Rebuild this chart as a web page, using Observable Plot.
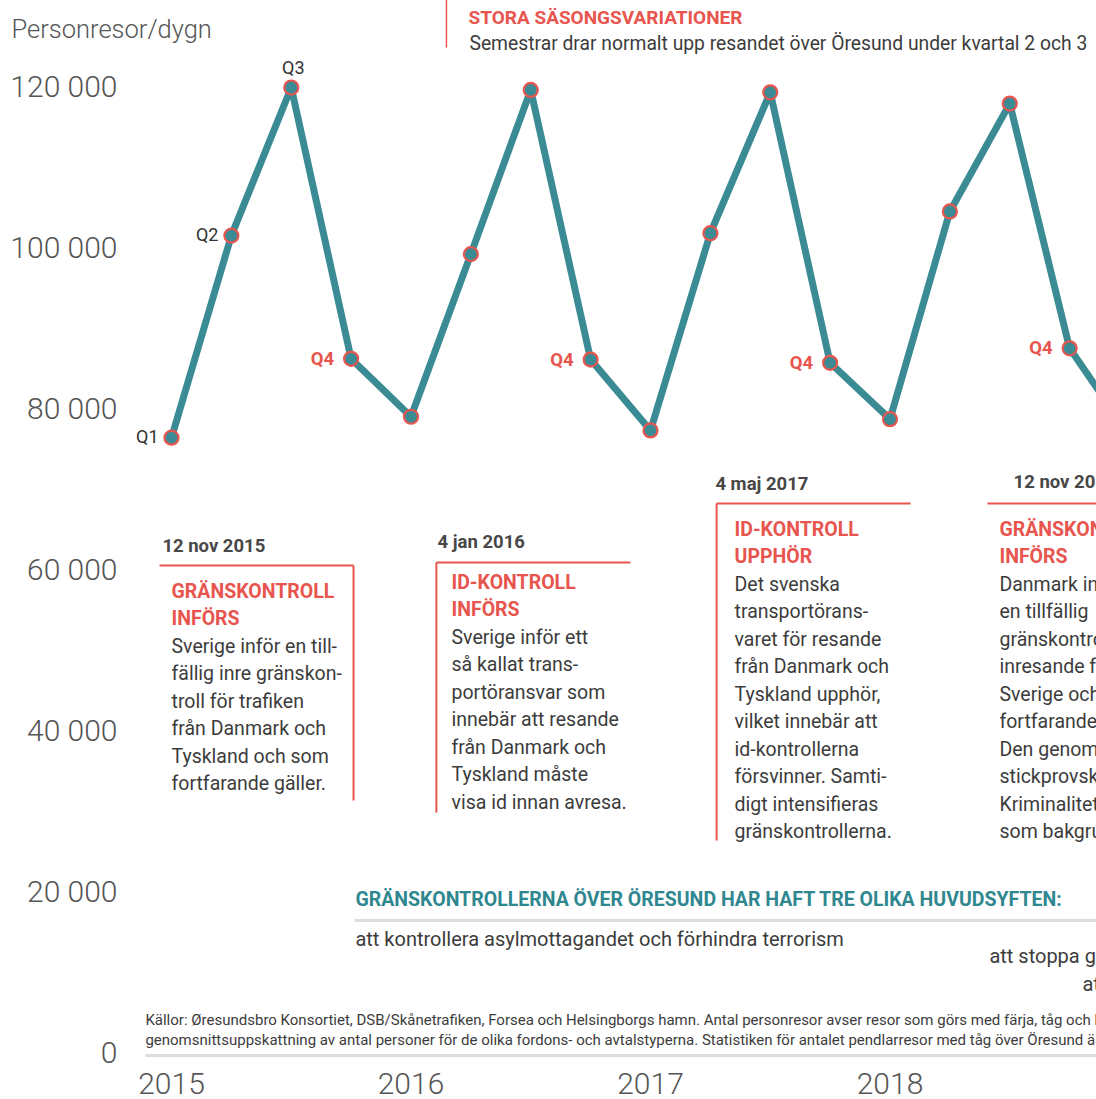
<!DOCTYPE html>
<html>
<head>
<meta charset="utf-8">
<script src="https://cdn.jsdelivr.net/npm/d3@7"></script>
<script src="https://cdn.jsdelivr.net/npm/@observablehq/plot@0.6"></script>
<style>
html, body { margin: 0; padding: 0; background: #fff; overflow: hidden; }
#chart { width: 1096px; height: 1099px; overflow: hidden; }
#chart svg { overflow: hidden; display: block; }
</style>
</head>
<body>
<div id="chart"></div>
<script>
// ---------- data ----------
const quarters = ["Q1", "Q2", "Q3", "Q4"];
const years = [2015, 2016, 2017, 2018, 2019];
const trips2015 = [76500, 101600, 120000, 86300];
const trips2016 = [79100, 99300, 119700, 86200];
const trips2017 = [77400, 101900, 119400, 85800];
const trips2018 = [78800, 104600, 118000, 87600];
const trips2019 = [76800]; // Q1 2019 (cut by the frame)
const yearTicks = [2015, 2016, 2017, 2018];
const valueTicks = [0, 20000, 40000, 60000, 80000, 100000, 120000];

const axisTitle = "Personresor/dygn";
const seasonTitle = "STORA SÄSONGSVARIATIONER";
const seasonText = "Semestrar drar normalt upp resandet över Öresund under kvartal 2 och 3";

const eventDates = ["12 nov 2015", "4 jan 2016", "4 maj 2017", "12 nov 2019"];
const eventTitles = ["GRÄNSKONTROLL\nINFÖRS", "ID-KONTROLL\nINFÖRS", "ID-KONTROLL\nUPPHÖR", "GRÄNSKONTROLL\nINFÖRS"];
const eventTexts = [
  "Sverige inför en till-\nfällig inre gränskon-\ntroll för trafiken\nfrån Danmark och\nTyskland och som\nfortfarande gäller.",
  "Sverige inför ett\nså kallat trans-\nportöransvar som\ninnebär att resande\nfrån Danmark och\nTyskland måste\nvisa id innan avresa.",
  "Det svenska\ntransportörans-\nvaret för resande\nfrån Danmark och\nTyskland upphör,\nvilket innebär att\nid-kontrollerna\nförsvinner. Samti-\ndigt intensifieras\ngränskontrollerna.",
  "Danmark inför\nen tillfällig\ngränskontroll för\ninresande från\nSverige och som\nfortfarande gäller.\nDen genomförs som\nstickprovskontroller.\nKriminalitet anges\nsom bakgrund."
];

const purposeTitle = "GRÄNSKONTROLLERNA ÖVER ÖRESUND HAR HAFT TRE OLIKA HUVUDSYFTEN:";
const purposes = [
  "att kontrollera asylmottagandet och förhindra terrorism",
  "att stoppa gränsöverskridande brottslighet",
  "att"
];
const sourceText = "Källor: Øresundsbro Konsortiet, DSB/Skånetrafiken, Forsea och Helsingborgs hamn. Antal personresor avser resor som görs med färja, tåg och bil över Öresund.\ngenomsnittsuppskattning av antal personer för de olika fordons- och avtalstyperna. Statistiken för antalet pendlarresor med tåg över Öresund är";

// ---------- build table ----------
const series = [trips2015, trips2016, trips2017, trips2018, trips2019];
const rows = [];
series.forEach((vals, i) => vals.forEach((v, q) => rows.push({t: years[i] + q * 0.25, year: years[i], q: quarters[q], value: v})));
const sideLabels = rows.filter(d => d.year === 2015 && (d.q === "Q1" || d.q === "Q2"));
const topLabels = rows.filter(d => d.year === 2015 && d.q === "Q3");
const q4Labels = rows.filter(d => d.q === "Q4");

// ---------- annotation layout (in data units) ----------
const layout = [
  {dx: 2014.962, dy: 62360, hy: 60620, hx1: 2014.950, hx2: 2015.760, vx: 2015.760, vy: 31428, tx: 2015.000, ty: 59067, by: 52235},
  {dx: 2016.111, dy: 62855, hy: 60993, hx1: 2016.106, hx2: 2016.916, vx: 2016.106, vy: 29937, tx: 2016.169, ty: 60185, by: 53353},
  {dx: 2017.271, dy: 70060, hy: 68322, hx1: 2017.276, hx2: 2018.086, vx: 2017.276, vy: 26459, tx: 2017.351, ty: 66769, by: 59937},
  {dx: 2018.516, dy: 70310, hy: 68322, hx1: 2018.407, hx2: 2019.217, vx: 2019.217, vy: 26459, tx: 2018.457, ty: 66769, by: 59937}
];
const events = layout.map((l, i) => ({...l, date: eventDates[i], title: eventTitles[i], text: eventTexts[i]}));

const teal = "#3b8b95";
const red = "#e8554e";
const ink = "#3c3c3c";
const gray = "#555555";
const fmt = d => d3.format(",")(d).replace(/,/g, " ");

const chart = Plot.plot({
  width: 1096,
  height: 1099,
  margin: 0,
  style: {fontFamily: "Roboto, 'DejaVu Sans', sans-serif", background: "#fff", overflow: "hidden"},
  x: {type: "linear", domain: [2015, 2019], range: [171, 1129]},
  y: {type: "linear", domain: [0, 120000], range: [1053, 87]},
  marks: [
    // axes
    Plot.axisY(valueTicks, {anchor: "left", tickSize: 0, tickPadding: 0, dx: 117, fontSize: 30, fontWeight: 300, fill: gray, tickFormat: fmt, label: null}),
    Plot.axisX(yearTicks, {anchor: "bottom", tickSize: 0, tickPadding: 0, dy: -27, fontSize: 30, fontWeight: 300, fill: gray, tickFormat: d => String(d), label: null}),
    Plot.text([axisTitle], {x: 2014.332, y: 126208, text: d => d, textAnchor: "start", lineAnchor: "bottom", fontSize: 25.5, fontWeight: 300, fill: gray}),

    // season annotation
    Plot.link([0], {x1: 2016.148, x2: 2016.148, y1: 131000, y2: 124966, stroke: red, strokeWidth: 1.5}),
    Plot.text([seasonTitle], {x: 2016.240, y: 127947, text: d => d, textAnchor: "start", lineAnchor: "bottom", fontSize: 19, fontWeight: "bold", fill: red}),
    Plot.text([seasonText], {x: 2016.244, y: 124717, text: d => d, textAnchor: "start", lineAnchor: "bottom", fontSize: 19.3, fill: ink}),

    // event boxes
    Plot.link(events, {x1: "hx1", x2: "hx2", y1: "hy", y2: "hy", stroke: red, strokeWidth: 2}),
    Plot.link(events, {x1: "vx", x2: "vx", y1: "hy", y2: "vy", stroke: red, strokeWidth: 2}),
    Plot.text(events, {x: "dx", y: "dy", text: "date", textAnchor: "start", lineAnchor: "bottom", fontSize: 18.5, fontWeight: "bold", fill: "#474747"}),
    Plot.text(events, {x: "tx", y: "ty", text: "title", textAnchor: "start", lineAnchor: "top", lineHeight: 27.5 / 19.5, fontSize: 19.5, fontWeight: "bold", fill: red}),
    Plot.text(events, {x: "tx", y: "by", text: "text", textAnchor: "start", lineAnchor: "top", lineHeight: 27.5 / 19.5, fontSize: 19.5, fill: ink}),

    // purposes
    Plot.text([purposeTitle], {x: 2015.768, y: 18261, text: d => d, textAnchor: "start", lineAnchor: "bottom", fontSize: 19.5, fontWeight: "bold", fill: "#2f8790"}),
    Plot.link([0], {x1: 2015.764, x2: 2019.2, y1: 16521, y2: 16521, stroke: "#dcdcdc", strokeWidth: 3}),
    Plot.text([purposes[0]], {x: 2015.768, y: 13292, text: d => d, textAnchor: "start", lineAnchor: "bottom", fontSize: 20, fill: ink}),
    Plot.text([purposes[1]], {x: 2018.415, y: 11304, text: d => d, textAnchor: "start", lineAnchor: "bottom", fontSize: 20, fill: ink}),
    Plot.text([purposes[2]], {x: 2018.804, y: 7826, text: d => d, textAnchor: "start", lineAnchor: "bottom", fontSize: 20, fill: ink}),

    // source
    Plot.text([sourceText], {x: 2014.891, y: 994, text: d => d, textAnchor: "start", lineAnchor: "bottom", lineHeight: 20 / 15, fontSize: 15, fill: ink}),
    Plot.link([0], {x1: 2014.891, x2: 2019.2, y1: -248, y2: -248, stroke: "#dcdcdc", strokeWidth: 3}),

    // data
    Plot.line(rows, {x: "t", y: "value", stroke: teal, strokeWidth: 7, strokeLinejoin: "miter", curve: "linear"}),
    Plot.dot(rows, {x: "t", y: "value", r: 7, fill: teal, stroke: red, strokeWidth: 2.2}),
    Plot.text(sideLabels, {x: "t", y: "value", text: "q", textAnchor: "end", dx: -13, fontSize: 18, fill: "#333"}),
    Plot.text(topLabels, {x: "t", y: "value", text: "q", textAnchor: "middle", lineAnchor: "bottom", dy: -14, dx: 2, fontSize: 18, fill: "#333"}),
    Plot.text(q4Labels, {x: "t", y: "value", text: "q", textAnchor: "end", dx: -17, fontSize: 18.5, fontWeight: "bold", fill: red})
  ]
});
document.getElementById("chart").appendChild(chart);
</script>
</body>
</html>
